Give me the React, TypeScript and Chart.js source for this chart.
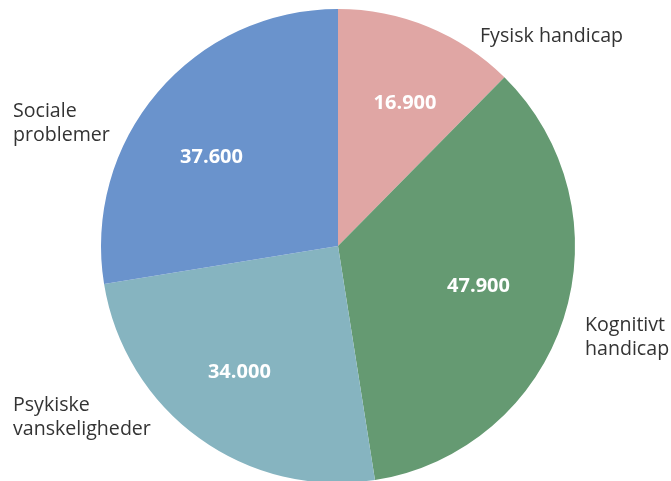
import React, { useEffect, useRef } from "react";
import { Chart, registerables } from "chart.js";

Chart.register(...registerables);

const categories = ["Fysisk handicap", "Kognitivt handicap", "Psykiske vanskeligheder", "Sociale problemer"];
const values = [16900, 47900, 34000, 37600];
const valueLabels = ["16.900", "47.900", "34.000", "37.600"];
const outerLines = [["Fysisk handicap"], ["Kognitivt", "handicap"], ["Psykiske", "vanskeligheder"], ["Sociale", "problemer"]];
const colors = ["#E0A6A4", "#659A72", "#86B4C0", "#6A93CC"];

export default function App() {
  const ref = useRef<HTMLCanvasElement>(null);
  useEffect(() => {
    const canvas = ref.current!;
    const labelPlugin = {
      id: "labels",
      afterDatasetsDraw(chart: any) {
        const ctx = chart.ctx;
        const meta = chart.getDatasetMeta(0);
        ctx.save();
        // inner value labels
        const nudges = [
          [9, -2],
          [-5, -7],
          [-9, 1],
          [-10, 9],
        ];
        ctx.fillStyle = "#ffffff";
        ctx.font = "bold 20px 'Open Sans'";
        ctx.textAlign = "center";
        ctx.textBaseline = "middle";
        meta.data.forEach((arc: any, i: number) => {
          const p = arc.getProps(["x", "y", "startAngle", "endAngle", "outerRadius"], true);
          const mid = (p.startAngle + p.endAngle) / 2;
          const r = p.outerRadius * 0.645;
          ctx.fillText(valueLabels[i], p.x + Math.cos(mid) * r + nudges[i][0], p.y + Math.sin(mid) * r + nudges[i][1] + 1);
        });
        // outer category labels
        ctx.fillStyle = "#333333";
        ctx.font = "19.6px 'Open Sans'";
        ctx.textAlign = "left";
        ctx.textBaseline = "alphabetic";
        const area = chart.chartArea;
        const cx = (area.left + area.right) / 2;
        const cy = (area.top + area.bottom) / 2;
        const pos = [
          [cx + 142, cy - 204],
          [cx + 247, cy + 85],
          [cx - 325, cy + 165],
          [cx - 325, cy - 129],
        ];
        outerLines.forEach((lines, i) => {
          lines.forEach((t, j) => {
            ctx.fillText(t, pos[i][0], pos[i][1] + j * 24);
          });
        });
        ctx.restore();
      },
    };
    const chart = new Chart(canvas, {
      type: "pie",
      data: {
        labels: categories,
        datasets: [
          {
            data: values,
            backgroundColor: colors,
            borderWidth: 0,
          },
        ],
      },
      options: {
        animation: false,
        responsive: false,
        maintainAspectRatio: false,
        layout: { padding: { top: 9, bottom: 17, left: 101, right: 96 } },
        plugins: { legend: { display: false }, tooltip: { enabled: false } },
      },
      plugins: [labelPlugin],
    });
    return () => chart.destroy();
  }, []);
  return (
    <div style={{ position: "fixed", left: 0, top: 0, width: 671, height: 500, background: "#fff" }}>
      <canvas ref={ref} width={671} height={500} style={{ width: 671, height: 500, display: "block" }} />
    </div>
  );
}
